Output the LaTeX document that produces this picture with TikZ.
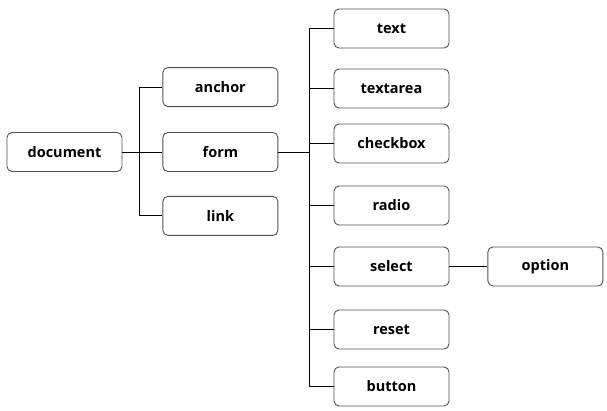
\documentclass[tikz,border=0pt]{standalone}
\usepackage{fontspec}
\setsansfont{Open Sans}
\usepackage{xcolor}
\usetikzlibrary{positioning}
\definecolor{boxgray}{RGB}{80,80,80}

\begin{document}
\begin{tikzpicture}[
        x=1pt, y=1pt,
        box/.style={rectangle, rounded corners=5pt, draw=boxgray, line width=0.9pt,
                    minimum width=115pt, minimum height=39pt, inner sep=0pt,
                    align=center, font=\sffamily\bfseries\fontsize{14.5}{17}\selectfont},
        link/.style={draw=black, line width=0.8pt},
      ]
      \useasboundingbox (0,0) rectangle (607,-411);
      % first level
      \node[box] (document) at (64.5,-152) {document};
      \node[box, right=40pt of document] (form) {form};
      \node[box, above=25pt of form] (anchor) {anchor};
      \node[box, below=24pt of form] (link) {link};
      % form elements
      \foreach \name/\y in {text/28.5, textarea/88.5, checkbox/143.5, radio/205.5,
                            select/266.5, reset/329.5, button/386.5}
        \node[box] (\name) at (391.5,-\y) {\name};
      \node[box, right=38pt of select] (option) {option};
      % connectors
      \draw[link] (document.east) -- ++(17pt,0) coordinate (docfork);
      \foreach \n in {anchor, form, link}
        \draw[link] (docfork) |- (\n.west);
      \draw[link] (form.east) -- ++(31pt,0) coordinate (formfork);
      \foreach \n in {text, textarea, checkbox, radio, select, reset, button}
        \draw[link] (formfork) |- (\n.west);
      \draw[link] (select) -- (option);
    \end{tikzpicture}
\end{document}
